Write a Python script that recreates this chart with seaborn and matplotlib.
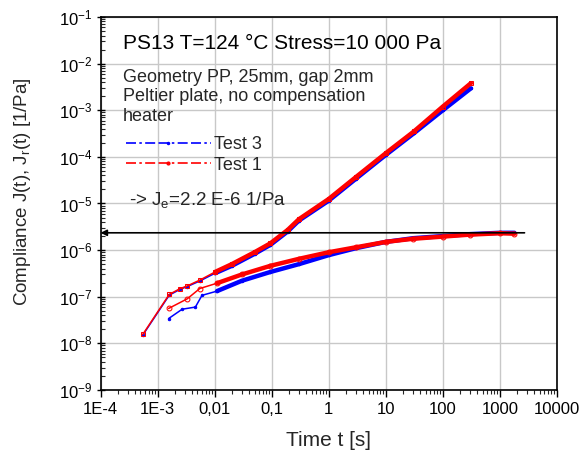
import numpy as np
import pandas as pd
import matplotlib
matplotlib.use("Agg")
import matplotlib.pyplot as plt
from matplotlib.lines import Line2D
import matplotlib.ticker as mticker
import seaborn as sns

# ---------------- data ----------------
t_creep = [5.5e-4, 1.6e-3, 2.5e-3, 3.3e-3, 5.6e-3, 0.0102, 0.02, 0.05, 0.095,
           0.19, 0.3, 1, 3, 10, 31, 100, 310]
J_creep_test1 = [1.55e-8, 1.12e-7, 1.5e-7, 1.7e-7, 2.3e-7, 3.4e-7, 5.0e-7, 9.0e-7,
                 1.4e-6, 2.7e-6, 4.6e-6, 1.25e-5, 3.7e-5, 1.2e-4, 3.5e-4, 1.2e-3, 3.8e-3]
J_creep_test3 = [1.5e-8, 1.08e-7, 1.45e-7, 1.65e-7, 2.2e-7, 3.2e-7, 4.6e-7, 8.3e-7,
                 1.3e-6, 2.5e-6, 4.3e-6, 1.15e-5, 3.4e-5, 1.1e-4, 3.2e-4, 1.0e-3, 2.95e-3]

t_rec_test1 = [1.56e-3, 3.3e-3, 5.5e-3, 0.011, 0.03, 0.095, 0.3, 1.0, 3, 10, 30,
               100, 300, 1000, 1800]
J_rec_test1 = [5.6e-8, 9e-8, 1.5e-7, 1.95e-7, 3.0e-7, 4.6e-7, 6.5e-7, 9.0e-7,
               1.15e-6, 1.5e-6, 1.75e-6, 1.95e-6, 2.15e-6, 2.3e-6, 2.25e-6]
t_rec_test3 = [1.56e-3, 2.7e-3, 4.6e-3, 6e-3, 0.011, 0.03, 0.095, 0.3, 1.0, 3, 10,
               30, 100, 300, 1000, 1800]
J_rec_test3 = [3.4e-8, 5.4e-8, 6.0e-8, 1.07e-7, 1.32e-7, 2.2e-7, 3.4e-7, 5.0e-7,
               7.8e-7, 1.1e-6, 1.5e-6, 1.8e-6, 2.0e-6, 2.2e-6, 2.35e-6, 2.35e-6]

J_e = 2.35e-6
arrow_t_start = 2700

x_ticks = [1e-4, 1e-3, 1e-2, 1e-1, 1, 10, 100, 1000, 10000]
x_ticklabels = ["1E-4", "1E-3", "0,01", "0,1", "1", "10", "100", "1000", "10000"]
y_exponents = [-9, -8, -7, -6, -5, -4, -3, -2, -1]

# ---------------- style ----------------
sns.set_theme(style="ticks")
plt.rcParams["font.family"] = ["Liberation Sans", "DejaVu Sans"]
plt.rcParams["mathtext.fontset"] = "custom"
plt.rcParams["mathtext.rm"] = "Liberation Sans"
plt.rcParams["mathtext.it"] = "Liberation Sans:italic"

fig = plt.figure(figsize=(5.82, 4.54), dpi=100)
ax = fig.add_axes([0.1727, 0.141, 0.7843, 0.8216])

RED = "#ff0000"
BLUE = "#0000ff"

segments = [
    (t_creep, J_creep_test3, BLUE, "."),
    (t_rec_test3, J_rec_test3, BLUE, "."),
    (t_creep, J_creep_test1, RED, "s"),
    (t_rec_test1, J_rec_test1, RED, "o"),
]
for tt, jj, col, mk in segments:
    df = pd.DataFrame({"t": tt, "J": jj})
    # thin line with markers over the whole run
    sns.lineplot(data=df, x="t", y="J", ax=ax, color=col, lw=1.1, marker=mk,
                 markersize=3.5, markeredgecolor=col,
                 markerfacecolor="none" if mk != "." else col,
                 legend=False, estimator=None, sort=False)
    # dense-data region drawn thick
    dense = df[df["t"] >= 0.0102]
    sns.lineplot(data=dense, x="t", y="J", ax=ax, color=col, lw=3.2,
                 legend=False, estimator=None, sort=False)

ax.set_xscale("log")
ax.set_yscale("log")
ax.set_xlim(1e-4, 1e4)
ax.set_ylim(1e-9, 1e-1)

ax.set_xticks(x_ticks)
ax.set_xticklabels(x_ticklabels)
ax.set_yticks([10.0 ** e for e in y_exponents])
ax.set_yticklabels([r"$\mathregular{10^{%d}}$" % e for e in y_exponents])
ax.xaxis.set_minor_locator(mticker.LogLocator(base=10, subs=np.arange(2, 10), numticks=20))
ax.yaxis.set_minor_locator(mticker.LogLocator(base=10, subs=np.arange(2, 10), numticks=20))
ax.xaxis.set_minor_formatter(mticker.NullFormatter())
ax.yaxis.set_minor_formatter(mticker.NullFormatter())

ax.tick_params(axis="x", which="major", direction="out", length=5, width=1, labelsize=12, pad=4)
ax.tick_params(axis="x", which="minor", direction="out", length=3, width=0.8)
ax.tick_params(axis="y", which="major", direction="inout", length=6, width=1, labelsize=12, pad=3)
ax.tick_params(axis="y", which="minor", direction="in", length=3, width=0.8)
ax.tick_params(colors="black")

ax.grid(True, which="major", color="#c8c8c8", lw=1)
ax.set_axisbelow(True)
for s in ax.spines.values():
    s.set_color("black")
    s.set_linewidth(1.2)

ax.set_xlabel("Time t [s]", fontsize=15, labelpad=10)
ax.set_ylabel(r"Compliance J(t), J$_{\mathrm{r}}$(t) [1/Pa]", fontsize=13.5)
ax.yaxis.set_label_coords(-0.147, 0.533)

# arrow for J_e
ax.annotate("", xy=(1e-4, J_e), xytext=(arrow_t_start, J_e),
            arrowprops=dict(arrowstyle="-|>", color="black", lw=1.2,
                            mutation_scale=9, shrinkA=0, shrinkB=0))

# texts
ax.text(0.049, 0.928, "PS13 T=124 °C Stress=10 000 Pa", transform=ax.transAxes,
        fontsize=15, va="center", ha="left", color="black")
ax.text(0.049, 0.839, "Geometry PP, 25mm, gap 2mm", transform=ax.transAxes,
        fontsize=13, va="center", ha="left")
ax.text(0.049, 0.786, "Peltier plate, no compensation", transform=ax.transAxes,
        fontsize=13, va="center", ha="left")
ax.text(0.049, 0.732, "heater", transform=ax.transAxes,
        fontsize=13, va="center", ha="left")
ax.text(0.063, 0.509, r"-> J$_{\mathrm{e}}$=2.2 E-6 1/Pa", transform=ax.transAxes,
        fontsize=13.5, va="center", ha="left")

handles = [
    Line2D([], [], color=BLUE, lw=1.2, linestyle=(0, (6, 2, 1.5, 2, 6, 2)),
           marker=".", markersize=3, markevery=[1]),
    Line2D([], [], color=RED, lw=1.2, linestyle=(0, (6, 2, 1.5, 2, 6, 2)),
           marker="o", markersize=2, markevery=[1]),
]
ax.legend(handles, ["Test 3", "Test 1"], loc="upper left",
          bbox_to_anchor=(0.028, 0.715), frameon=False, fontsize=13,
          handlelength=4.7, handletextpad=0.2, labelspacing=0.2, borderpad=0.2)

fig.savefig("out.png", dpi=100)
